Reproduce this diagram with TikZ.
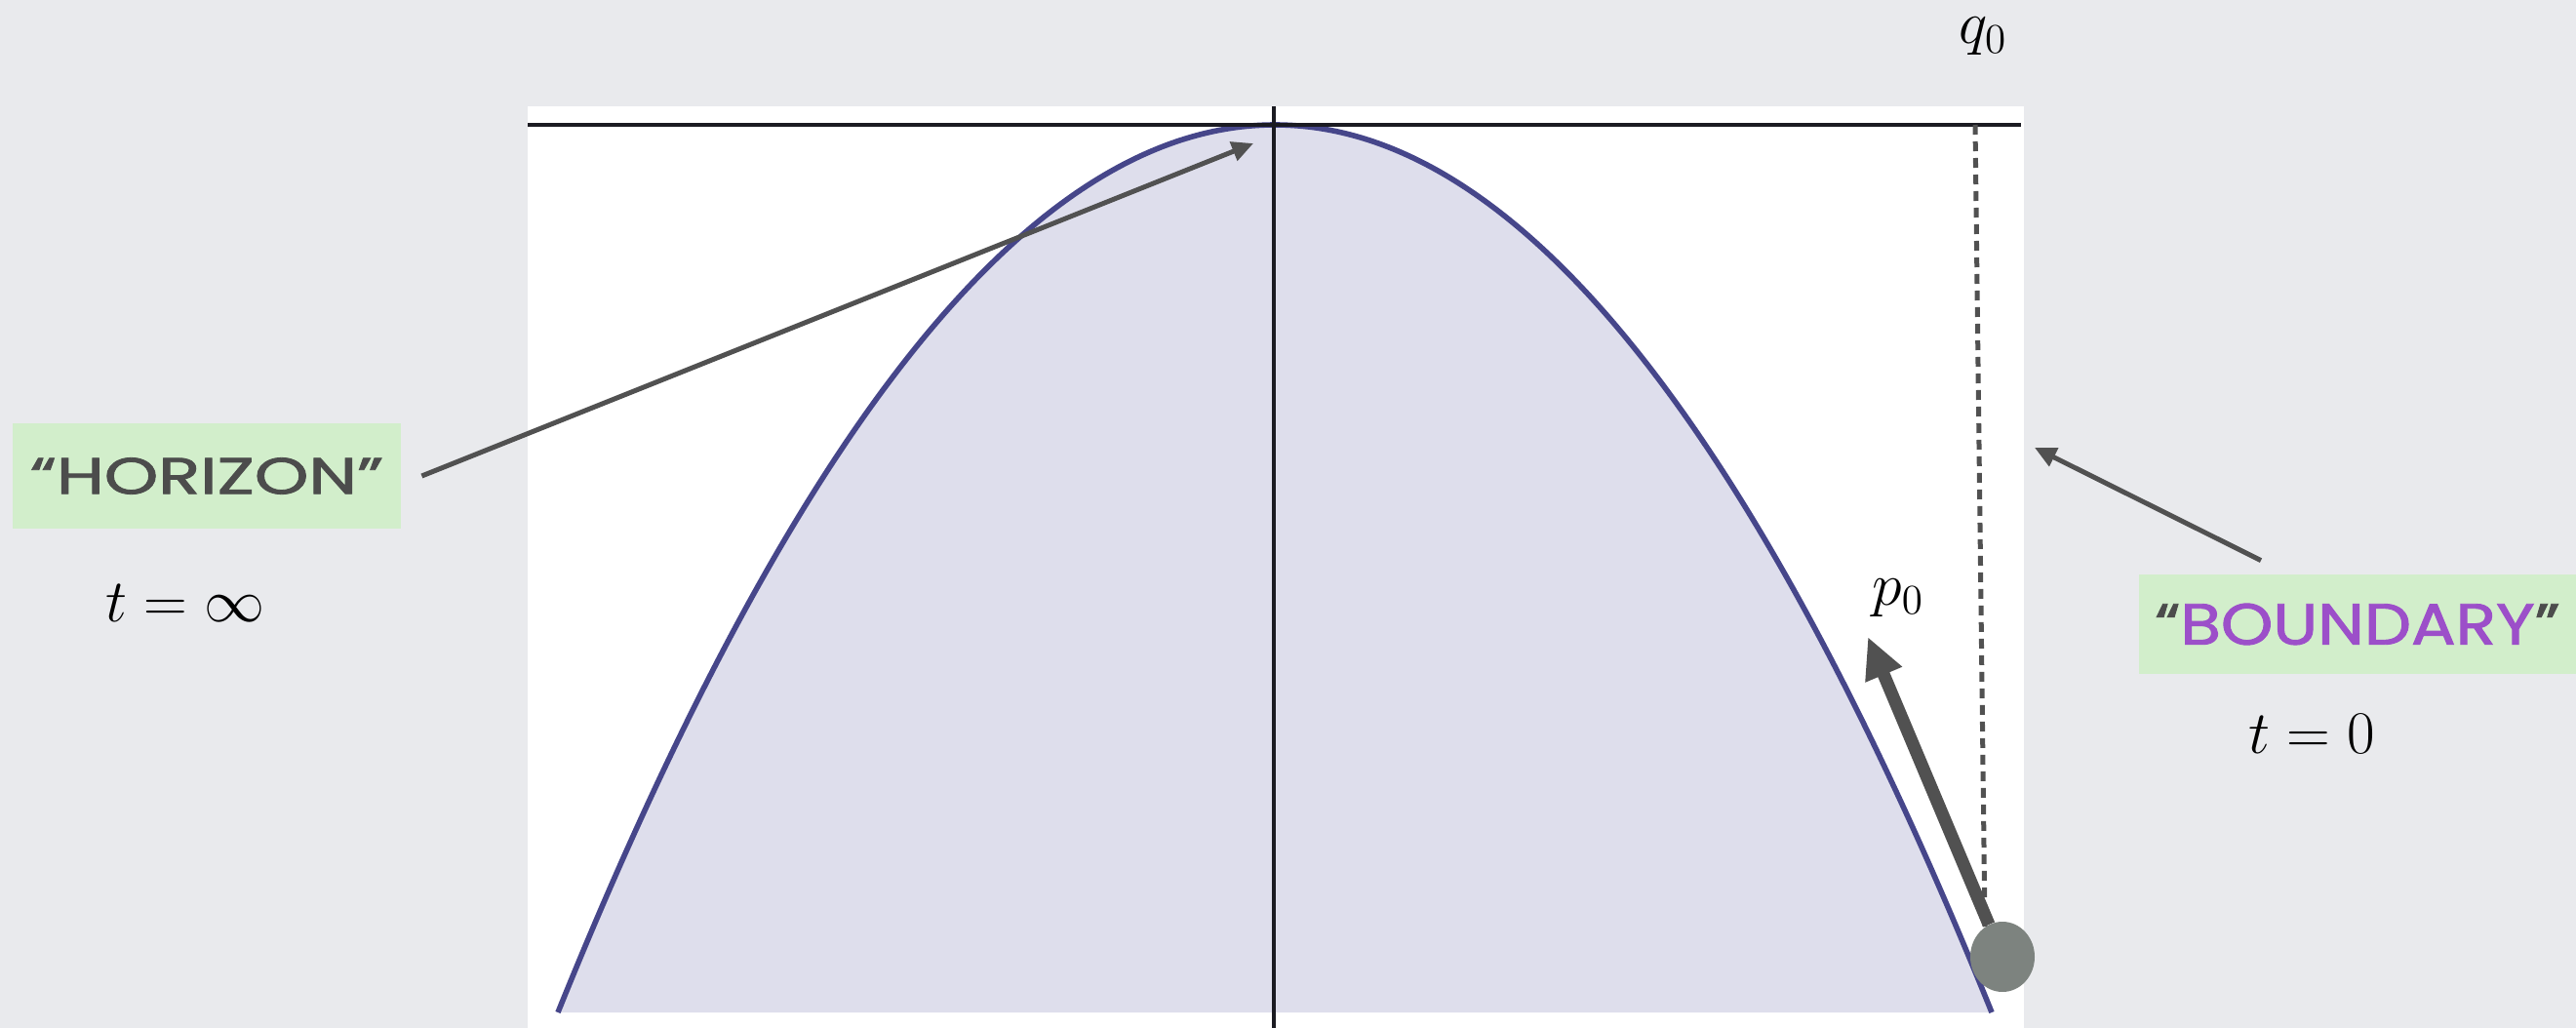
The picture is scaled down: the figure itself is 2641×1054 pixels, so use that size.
\documentclass[tikz,border=0pt]{standalone}
\usepackage{fontspec}
\usepackage{graphicx}
\usetikzlibrary{arrows.meta,shapes.geometric}
\newfontfamily\handfont{Poppins}[FakeBold=1.5]
\newcommand{\biglbl}[1]{\scalebox{1.495}{\fontsize{20.74}{25}\selectfont$#1$}}
\definecolor{bgcol}{HTML}{E9EAED}
\definecolor{lav}{HTML}{DEDEEC}
\definecolor{curvecol}{HTML}{46468A}
\definecolor{ballgray}{HTML}{7D837F}
\definecolor{arrgray}{HTML}{515151}
\definecolor{boxgreen}{HTML}{D2EECB}
\definecolor{bpurple}{HTML}{9C4FC9}
\definecolor{textgray}{HTML}{4C4C4C}
\definecolor{axiscol}{HTML}{1B1B22}
\begin{document}
\begin{tikzpicture}[x=0.5pt,y=-0.5pt,
  labelbox/.style={rectangle,fill=boxgreen,inner sep=0pt,text=textgray},
  mathlbl/.style={inner sep=0pt,anchor=base},
  thinarrow/.style={draw=arrgray,line width=2.5pt,-{Triangle[length=11pt,width=10pt]}},
  thickarrow/.style={draw=arrgray,line width=6.5pt,-{Triangle[length=21pt,width=19pt]}},
  dashline/.style={draw=arrgray,line width=2.5pt,dash pattern=on 5pt off 3.5pt},
  ballnode/.style={ellipse,fill=ballgray,inner sep=0pt,minimum width=33pt,minimum height=36pt},
  curve/.style={draw=curvecol,line width=2.8pt},
  axisline/.style={draw=axiscol,line width=1.9pt}]
\useasboundingbox (0,0) rectangle (2641,1054);
\fill[bgcol] (0,0) rectangle (2641,1054);
\fill[white] (541,109) rectangle (2075,1054);
% region under the parabola
\fill[lav] (572,1038) .. controls (1062,-175.33) and (1552,-175.33) .. (2042,1038) -- cycle;
\draw[curve] (572,1038) .. controls (1062,-175.33) and (1552,-175.33) .. (2042,1038);
% axes
\draw[axisline,line width=2pt] (541,128) -- (2072,128);
\draw[axisline] (1306,109) -- (1306,1054);
% dashed boundary line
\coordinate (dtop) at (2025,128);
\coordinate (dbot) at (2035,950);
\draw[dashline] (dtop) -- (dbot);
% ball and momentum arrow
\node[ballnode] (ball) at (2053,981) {};
\coordinate (ptip) at (1915,653);
\draw[thickarrow] (ball) -- (ptip);
% labels
\node[labelbox,minimum width=199pt,minimum height=54pt] (horizon) at (212,488)
  {\resizebox{181pt}{18.5pt}{\handfont “HORIZON”}};
\node[labelbox,minimum width=224pt,minimum height=51pt] (boundary) at (2417,640)
  {\resizebox{207.5pt}{21pt}{\handfont{\color{textgray}“}{\color{bpurple}BOUNDARY}{\color{textgray}”}}};
\node[mathlbl] (tinf) at (190,637) {\biglbl{t=\infty}};
\node[mathlbl] (tzero) at (2370,772) {\biglbl{t=0}};
\node[mathlbl] (q0) at (2033,45) {\biglbl{q_0}};
\node[mathlbl] (p0) at (1946,620) {\biglbl{p_0}};
% pointer arrows
\coordinate (htip) at (1285,147);
\draw[thinarrow] ([xshift=10.5pt]horizon.east) -- (htip);
\coordinate (btip) at (2086,459);
\draw[thinarrow] ([xshift=-49.5pt,yshift=7pt]boundary.north) -- (btip);
\end{tikzpicture}
\end{document}
